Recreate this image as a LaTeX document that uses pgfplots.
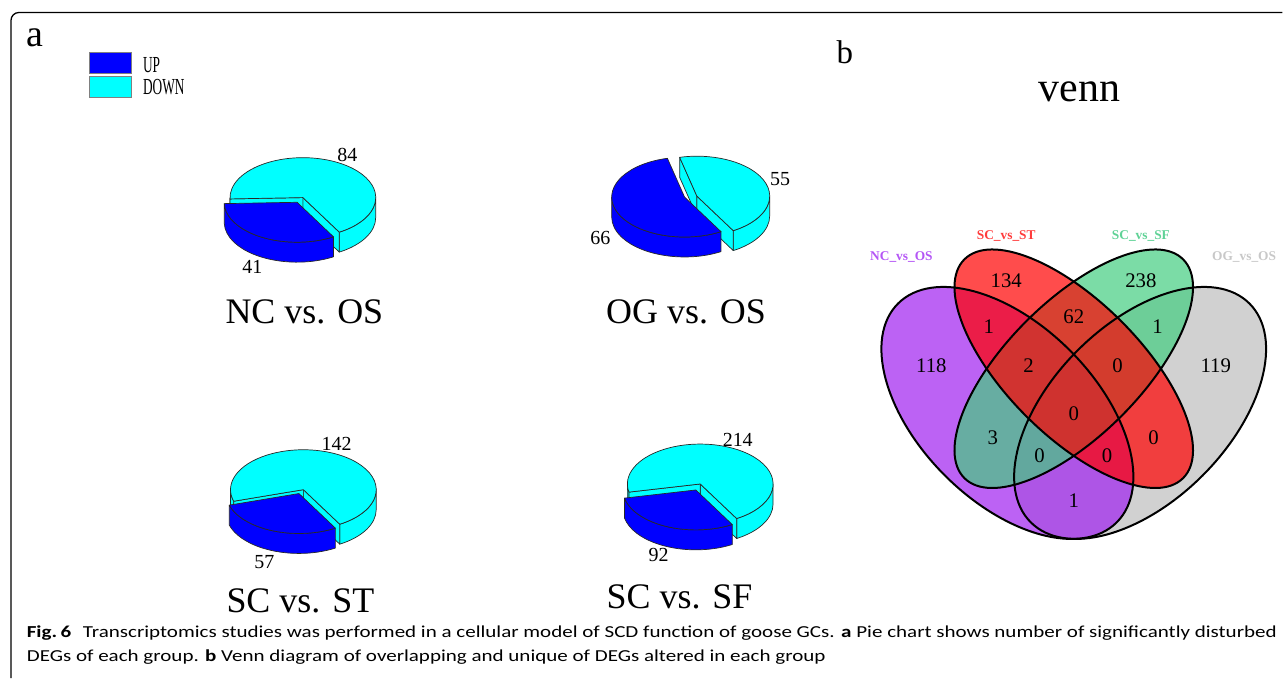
\documentclass[border=0pt]{standalone}
\usepackage{graphicx}
\usepackage{pgfplots}
\pgfplotsset{compat=1.18}
\usepackage{fontspec}
\setmainfont{Liberation Serif}
\newfontfamily\capfont{Carlito}
\usetikzlibrary{calc}
\definecolor{pieblue}{RGB}{0,0,255}
\definecolor{piecyan}{RGB}{0,255,255}
\definecolor{pieedge}{RGB}{40,40,40}
\definecolor{vpurple}{RGB}{160,32,240}
\definecolor{vred}{RGB}{255,0,0}
\definecolor{vgreen}{RGB}{67,205,128}
\definecolor{vgrey}{RGB}{190,190,190}
\definecolor{lpurple}{RGB}{180,85,245}
\definecolor{lred}{RGB}{255,60,60}
\definecolor{lgreen}{RGB}{95,210,150}
\definecolor{lgrey}{RGB}{200,200,200}

\def\DP{10bp}
\tikzset{pieface/.style={draw=pieedge,line width=0.35bp,line join=round}}

% one slice of a 3D pie: vertex x, vertex y (pixel units), start angle, end angle, colour
\newcommand\pieslice[5]{%
  \coordinate (V) at (axis cs:#1,#2);
  \pgfmathsetmacro\fa{max(#3,-180)}%
  \pgfmathsetmacro\fb{min(#4,0)}%
  \ifdim\fa pt<\fb pt
    \filldraw[pieface,fill=#5] ($(V)+(\fa:36.5bp and 20bp)$)
      arc[start angle=\fa,end angle=\fb,x radius=36.5bp,y radius=20bp]
      -- ++(0bp,-\DP)
      arc[start angle=\fb,end angle=\fa,x radius=36.5bp,y radius=20bp] -- cycle;
  \fi
  \pgfmathsetmacro\fa{max(#3,180)}%
  \pgfmathsetmacro\fb{min(#4,360)}%
  \ifdim\fa pt<\fb pt
    \filldraw[pieface,fill=#5] ($(V)+(\fa:36.5bp and 20bp)$)
      arc[start angle=\fa,end angle=\fb,x radius=36.5bp,y radius=20bp]
      -- ++(0bp,-\DP)
      arc[start angle=\fb,end angle=\fa,x radius=36.5bp,y radius=20bp] -- cycle;
  \fi
  \pgfmathsetmacro\ca{cos(#3)}%
  \ifdim\ca pt>0pt
    \filldraw[pieface,fill=#5] (V) -- ($(V)+(#3:36.5bp and 20bp)$) -- ++(0bp,-\DP)
      -- ($(V)+(0bp,-\DP)$) -- cycle;
  \fi
  \pgfmathsetmacro\cb{cos(#4)}%
  \ifdim\cb pt<0pt
    \filldraw[pieface,fill=#5] (V) -- ($(V)+(#4:36.5bp and 20bp)$) -- ++(0bp,-\DP)
      -- ($(V)+(0bp,-\DP)$) -- cycle;
  \fi
  \filldraw[pieface,fill=#5] (V) -- ($(V)+(#3:36.5bp and 20bp)$)
    arc[start angle=#3,end angle=#4,x radius=36.5bp,y radius=20bp] -- cycle;
}
% UP value, DOWN value, cyan vertex x, y, blue vertex x, y
\newcommand\threedpie[6]{%
  \pgfmathsetmacro\tb{300-360*(#1/(#1+#2))}%
  \pieslice{#3}{#4}{-60}{\tb}{piecyan}%
  \pieslice{#5}{#6}{\tb}{300}{pieblue}%
}
\newcommand\fs[1]{\fontsize{#1bp}{#1bp}\selectfont}

\begin{document}
\newsavebox\capA
\newsavebox\capB
\sbox\capA{\capfont\fs{8.4}\textbf{Fig.\,6}\hspace{0.55em}Transcriptomics studies was performed in a cellular model of SCD function of goose GCs. \textbf{a} Pie chart shows number of significantly disturbed}%
\sbox\capB{\capfont\fs{8.4}DEGs of each group. \textbf{b} Venn diagram of overlapping and unique of DEGs altered in each group}%
\pgfmathsetmacro\capsc{628.6/\wd\capA}%
\begin{tikzpicture}
\begin{axis}[
  scale only axis, width=642.5bp, height=340bp,
  xmin=0, xmax=1285, ymin=0, ymax=680, y dir=reverse,
  hide axis, clip=false,
]
\pgfplotsextra{
  \path (axis cs:0,0) rectangle (axis cs:1285,680);
  % frame
  \draw[line width=0.65bp, rounded corners=4bp] (axis cs:1285,12.5) -- (axis cs:11,12.5) -- (axis cs:11,679.5);
  % panel letters
  \node[anchor=base west, inner sep=0pt, font=\fs{19}] at (axis cs:26.5,46.7) {a};
  \node[anchor=base west, inner sep=0pt, font=\fs{16.5}] at (axis cs:838,64) {b};
  \node[anchor=base, inner sep=0pt, font=\fs{21}] at (axis cs:1081.7,101.7) {venn};
  % legend
  \filldraw[fill=pieblue, draw=gray, line width=0.3bp] (axis cs:89,52.5) rectangle (axis cs:132,73);
  \filldraw[fill=piecyan, draw=gray, line width=0.3bp] (axis cs:89,76.5) rectangle (axis cs:132,97);
  \node[anchor=base west, inner sep=0pt, font=\fs{11.5}] at (axis cs:143,72.7) {\scalebox{0.58}[1]{UP}};
  \node[anchor=base west, inner sep=0pt, font=\fs{11.5}] at (axis cs:143,95) {\scalebox{0.58}[1]{DOWN}};
  % pies: UP, DOWN
  \threedpie{41}{84}{303.5}{198}{297.7}{202.7}
  \threedpie{66}{55}{698.3}{196.5}{686}{197.5}
  \threedpie{57}{142}{304}{490.7}{299.6}{494.6}
  \threedpie{92}{214}{701.7}{485}{697.3}{491}
  % pie value labels
  \begin{scope}[every node/.style={inner sep=0pt, font=\fs{10}}]
    \node at (axis cs:348,155) {84};
    \node at (axis cs:253,267) {41};
    \node at (axis cs:781.7,179.3) {55};
    \node at (axis cs:601.7,238.3) {66};
    \node at (axis cs:337.3,445) {142};
    \node at (axis cs:265,563.3) {57};
    \node at (axis cs:739.3,440.7) {214};
    \node at (axis cs:660,556) {92};
  \end{scope}
  % pie titles
  \begin{scope}[every node/.style={anchor=base, inner sep=0pt, font=\fs{18}}]
    \node at (axis cs:305,324) {NC vs. OS};
    \node at (axis cs:687.5,324) {OG vs. OS};
    \node at (axis cs:301,613.5) {SC vs. ST};
    \node at (axis cs:681,609.5) {SC vs. SF};
  \end{scope}
  % venn
  \coordinate (Cg) at (axis cs:1142.5,413.8);
  \coordinate (Cp) at (axis cs:1009.5,413.8);
  \coordinate (Cm) at (axis cs:1076,369.5);
  \fill[vgrey, opacity=0.7, rotate around={45:(Cg)}] (Cg) ellipse[x radius=77.5bp, y radius=44.3bp];
  \fill[vpurple, opacity=0.7, rotate around={-45:(Cp)}] (Cp) ellipse[x radius=77.5bp, y radius=44.3bp];
  \fill[vgreen, opacity=0.7, rotate around={45:(Cm)}] (Cm) ellipse[x radius=77.5bp, y radius=33.65bp];
  \fill[vred, opacity=0.7, rotate around={-45:(Cm)}] (Cm) ellipse[x radius=77.5bp, y radius=33.65bp];
  \begin{scope}[line width=1bp]
    \draw[rotate around={45:(Cg)}] (Cg) ellipse[x radius=77.5bp, y radius=44.3bp];
    \draw[rotate around={-45:(Cp)}] (Cp) ellipse[x radius=77.5bp, y radius=44.3bp];
    \draw[rotate around={45:(Cm)}] (Cm) ellipse[x radius=77.5bp, y radius=33.65bp];
    \draw[rotate around={-45:(Cm)}] (Cm) ellipse[x radius=77.5bp, y radius=33.65bp];
  \end{scope}
  \begin{scope}[every node/.style={inner sep=0pt, font=\fs{10.4}}]
    \node at (axis cs:1008.3,281.7) {134};
    \node at (axis cs:1143.3,281.7) {238};
    \node at (axis cs:991,327.3) {1};
    \node at (axis cs:1076,317.3) {62};
    \node at (axis cs:1160,327.3) {1};
    \node at (axis cs:933.3,366) {118};
    \node at (axis cs:1030.7,366) {2};
    \node at (axis cs:1120,366) {0};
    \node at (axis cs:1218.3,366) {119};
    \node at (axis cs:1076,415) {0};
    \node at (axis cs:995,438.3) {3};
    \node at (axis cs:1156,438.3) {0};
    \node at (axis cs:1041.7,456.7) {0};
    \node at (axis cs:1109.3,456.7) {0};
    \node at (axis cs:1076,501.7) {1};
  \end{scope}
  \begin{scope}[every node/.style={inner sep=0pt, font=\fs{6.7}\bfseries}]
    \node[text=lpurple] at (axis cs:903.3,257.3) {NC\_vs\_OS};
    \node[text=lred] at (axis cs:1008.3,236) {SC\_vs\_ST};
    \node[text=lgreen] at (axis cs:1143.3,236) {SC\_vs\_SF};
    \node[text=lgrey] at (axis cs:1246.7,257.3) {OG\_vs\_OS};
  \end{scope}
  % caption
  \node[anchor=base west, inner sep=0pt] at (axis cs:26.5,639.3) {\scalebox{\capsc}[1]{\usebox\capA}};
  \node[anchor=base west, inner sep=0pt] at (axis cs:26.5,663.3) {\scalebox{\capsc}[1]{\usebox\capB}};
}
\end{axis}
\end{tikzpicture}
\end{document}
